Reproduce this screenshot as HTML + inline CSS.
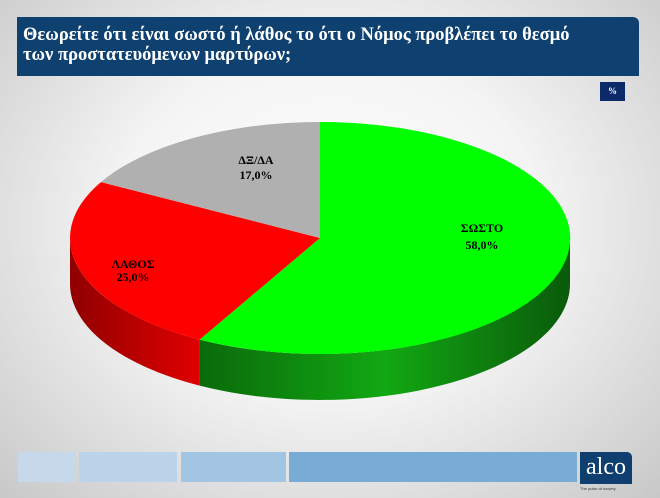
<!DOCTYPE html>
<html><head><meta charset="utf-8"><style>
html,body{margin:0;padding:0}
body{width:660px;height:498px;overflow:hidden;position:relative;background:radial-gradient(ellipse at 50% 45%,#ffffff 0%,#f4f4f4 45%,#c8c8c8 100%);font-family:"Liberation Serif",serif}
.title{position:absolute;left:17px;top:17px;width:622px;height:59px;background:#0e4170;border-radius:0 6px 0 0;color:#fff;font-weight:bold;font-size:18.5px;line-height:20px;padding:8px 0 0 6px;box-sizing:border-box}
.pct{position:absolute;left:600px;top:82px;width:25px;height:19px;background:#0c2a6a;color:#fff;font-size:9px;font-weight:bold;text-align:center;line-height:19px}
.bar{position:absolute;top:452px;height:30px}
.logo{position:absolute;left:580px;top:452px;width:52px;height:32px;background:#0e3f6e;border-radius:0 5px 0 0;color:#fff;font-size:24px;text-align:center;line-height:30px}
.tag{position:absolute;left:580px;top:486px;font-family:"Liberation Sans",sans-serif;font-size:4px;color:#333}
</style></head><body>
<div class="title">Θεωρείτε ότι είναι σωστό ή λάθος το ότι ο Νόμος προβλέπει το θεσμό<br>των προστατευόμενων μαρτύρων;</div>
<div class="pct">%</div>
<svg width="660" height="498" style="position:absolute;left:0;top:0">
<defs>
<linearGradient id="gs" x1="0" x2="1" y1="0" y2="0">
<stop offset="0" stop-color="#0a6a0a"/><stop offset="0.5" stop-color="#12a812"/><stop offset="1" stop-color="#0a5a0a"/></linearGradient>
<linearGradient id="rs" x1="0" x2="1" y1="0" y2="0">
<stop offset="0" stop-color="#900000"/><stop offset="1" stop-color="#e00000"/></linearGradient>
</defs>
<path d="M570 238 A250 116 0 0 1 199.6 339.6 L199.6 385.6 A250 116 0 0 0 570 284 Z" fill="url(#gs)"/>
<path d="M199.6 339.6 A250 116 0 0 1 70 238 L70 284 A250 116 0 0 0 199.6 385.6 Z" fill="url(#rs)"/>
<path d="M320 238 L320 122 A250 116 0 1 1 199.6 339.6 Z" fill="#00ff00"/>
<path d="M320 238 L199.6 339.6 A250 116 0 0 1 100.9 182.1 Z" fill="#ff0000"/>
<path d="M320 238 L100.9 182.1 A250 116 0 0 1 320 122 Z" fill="#b0b0b0"/>
<g font-family="Liberation Serif,serif" font-weight="bold" font-size="12" text-anchor="middle" fill="#000">
<text x="482" y="232">ΣΩΣΤΟ</text><text x="482" y="249">58,0%</text>
<text x="133" y="268">ΛΑΘΟΣ</text><text x="133" y="281">25,0%</text>
<text x="256" y="164">ΔΞ/ΔΑ</text><text x="256" y="179">17,0%</text>
</g>
</svg>
<div class="bar" style="left:18px;width:58px;background:#c5d9ea"></div>
<div class="bar" style="left:79px;width:98px;background:#bcd4e9"></div>
<div class="bar" style="left:181px;width:105px;background:#a2c5e3"></div>
<div class="bar" style="left:289px;width:288px;background:#78acd6"></div>
<div class="logo">alco</div>
<div class="tag">The pulse of society</div>
</body></html>
